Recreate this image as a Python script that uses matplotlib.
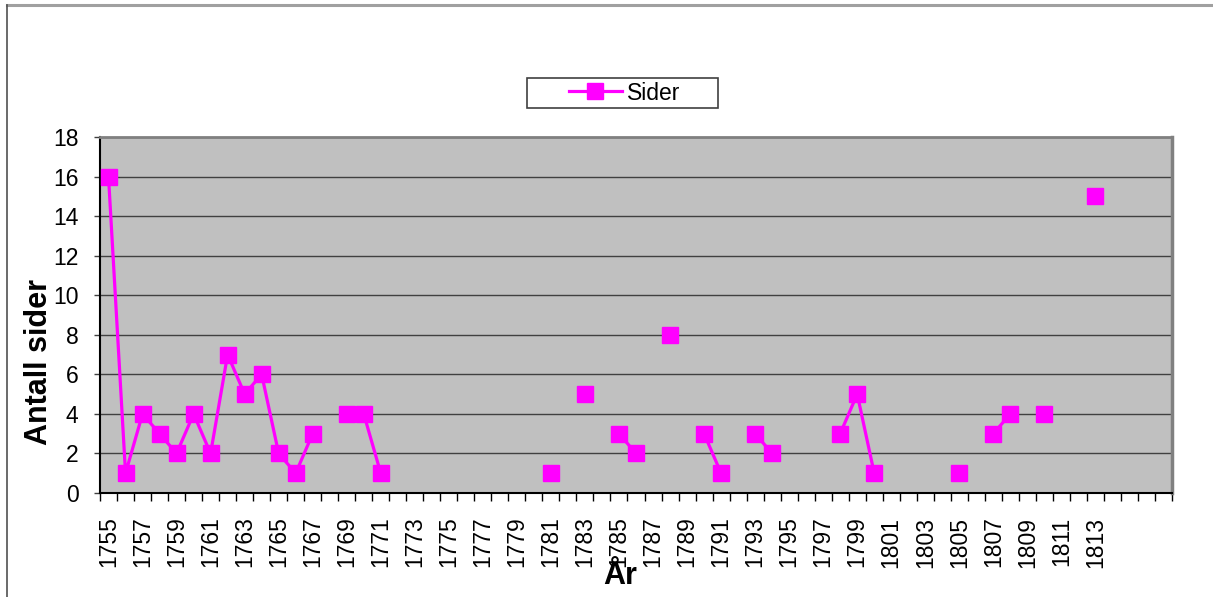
import numpy as np
import matplotlib
matplotlib.use("Agg")
import matplotlib.pyplot as plt
from matplotlib.lines import Line2D
from matplotlib.patches import Rectangle

plt.rcParams['font.family'] = ['Liberation Sans', 'DejaVu Sans']

years = list(range(1755, 1818))
year_labels = [str(y) if (y <= 1813 and (y - 1755) % 2 == 0) else "" for y in years]

sider_data = {
    1755: 16, 1756: 1, 1757: 4, 1758: 3, 1759: 2, 1760: 4, 1761: 2, 1762: 7,
    1763: 5, 1764: 6, 1765: 2, 1766: 1, 1767: 3, 1769: 4, 1770: 4, 1771: 1,
    1781: 1, 1783: 5, 1785: 3, 1786: 2, 1788: 8, 1790: 3, 1791: 1, 1793: 3,
    1794: 2, 1798: 3, 1799: 5, 1800: 1, 1805: 1, 1807: 3, 1808: 4, 1810: 4,
    1813: 15,
}
sider = np.array([sider_data.get(y, np.nan) for y in years], dtype=float)

W, H = 1213, 597
fig = plt.figure(figsize=(W / 100, H / 100), dpi=100)
fig.patch.set_facecolor('white')

# outer chart border
fig.add_artist(Line2D([7 / W, 1.0], [1 - 5 / H, 1 - 5 / H], transform=fig.transFigure,
                      color='#a0a0a0', lw=2.2))
fig.add_artist(Line2D([7 / W, 7 / W], [0, 1 - 5 / H], transform=fig.transFigure,
                      color='#505050', lw=1.2))

L, R, T, B = 100, 1172, 137, 493
ax = fig.add_axes([L / W, 1 - B / H, (R - L) / W, (B - T) / H])
ax.set_facecolor('#c0c0c0')

x = np.arange(len(years))
ax.plot(x, sider, color='#ff00ff', lw=2.3, marker='s', markersize=11,
        markeredgecolor='#ff00ff', markerfacecolor='#ff00ff', label='Sider',
        zorder=3, clip_on=False)

ax.set_xlim(-0.5, len(years) - 0.5)
ax.set_ylim(0, 18)
ax.set_yticks(np.arange(0, 19, 2))
ax.yaxis.grid(True, color='#404040', lw=1.0)
ax.set_axisbelow(True)

ax.set_xticks(x)
ax.set_xticklabels(year_labels, rotation=90, fontsize=16.5)
ax.set_xticks(np.arange(-0.5, len(years), 1), minor=True)
ax.tick_params(axis='x', which='major', length=0, pad=17)
ax.tick_params(axis='x', which='minor', length=6, width=1, color='black', direction='out')
ax.tick_params(axis='y', which='major', length=4.5, width=1, color='#404040', pad=11, labelsize=16.5)

for s in ['top', 'right']:
    ax.spines[s].set_color('#808080')
ax.spines['top'].set_linewidth(2)
ax.spines['right'].set_linewidth(2.5)
ax.spines['left'].set_color('black')
ax.spines['bottom'].set_color('black')
ax.spines['left'].set_linewidth(1.5)
ax.spines['bottom'].set_linewidth(1.5)

fig.text(39 / W, 1 - 362 / H, 'Antall sider', rotation=90, fontsize=22, fontweight='bold',
         ha='center', va='center')
fig.text(620 / W, 1 - 576 / H, 'År', fontsize=22, fontweight='bold', ha='center', va='center')

# legend box and entries
fig.add_artist(Rectangle((527 / W, 1 - 108 / H), (718 - 527) / W, 30 / H,
                         transform=fig.transFigure, facecolor='white',
                         edgecolor='#404040', lw=1.2))
leg = fig.legend(loc='center left', bbox_to_anchor=(569 / W, 1 - 93 / H), fontsize=16.5,
                 frameon=False, borderpad=0, handlelength=2.3, handletextpad=0.25,
                 borderaxespad=0)

fig.savefig('out.png', dpi=100)
